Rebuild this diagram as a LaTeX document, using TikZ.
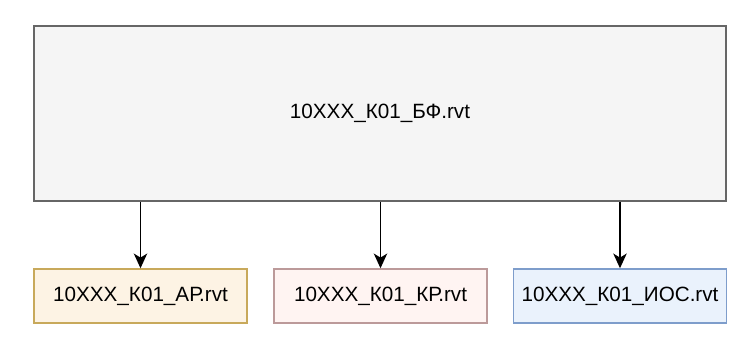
\documentclass[tikz,border=0pt]{standalone}
\usepackage{fontspec}
\setmainfont{Liberation Sans}
\usetikzlibrary{arrows.meta}
\definecolor{bfFill}{HTML}{F5F5F5}
\definecolor{bfLine}{HTML}{666666}
\definecolor{arFill}{HTML}{FDF3E4}
\definecolor{arLine}{HTML}{C8A95B}
\definecolor{krFill}{HTML}{FFF4F2}
\definecolor{krLine}{HTML}{BC9A9A}
\definecolor{iosFill}{HTML}{EAF2FC}
\definecolor{iosLine}{HTML}{7E9DCB}
\begin{document}
\begin{tikzpicture}[x=0.75pt, y=-0.75pt, font=\fontsize{15.5}{18}\selectfont,
        >={Stealth[length=11pt, width=10pt, inset=3pt]},
        model/.style={draw, line width=1.1pt, inner sep=0pt,
            minimum width=159.75pt, minimum height=40.5pt}]
        \useasboundingbox (0,0) rectangle (744,340);
        \node[model, draw=bfLine, fill=bfFill, line width=1.4pt,
            minimum width=519pt, minimum height=131.25pt] (bf) at (380,113.5) {10XXX\_К01\_БФ.rvt};
        \node[model, draw=arLine, fill=arFill] (ar) at (140.5,296) {10XXX\_К01\_АР.rvt};
        \node[model, draw=krLine, fill=krFill] (kr) at (380.5,296) {10XXX\_К01\_КР.rvt};
        \node[model, draw=iosLine, fill=iosFill] (ios) at (620,296) {10XXX\_К01\_ИОС.rvt};
        \draw[->, line width=1.4pt] (bf.south -| ar) -- (ar);
        \draw[->, line width=1.4pt] (bf.south -| kr) -- (kr);
        \draw[->, line width=1.4pt] (bf.south -| ios) -- (ios);
    \end{tikzpicture}
\end{document}
